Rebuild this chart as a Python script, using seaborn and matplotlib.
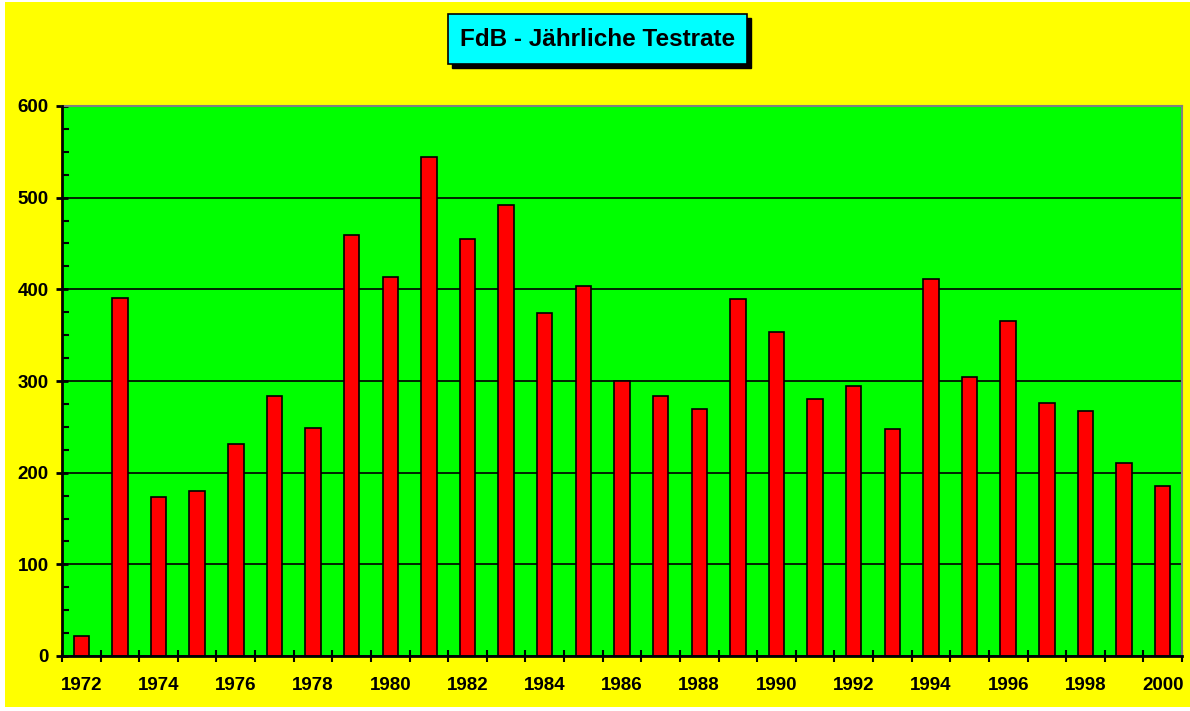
import matplotlib
matplotlib.use("Agg")
import matplotlib.pyplot as plt
import matplotlib.patches as mpatches
from matplotlib.ticker import MultipleLocator, FixedLocator
import seaborn as sns
import pandas as pd

years = [str(y) for y in range(1972, 2001)]
values = [22, 391, 174, 180, 231, 284, 249, 459, 413, 544,
          455, 492, 374, 404, 300, 284, 269, 389, 354, 280,
          295, 248, 411, 304, 365, 276, 267, 211, 185]
title = "FdB - Jährliche Testrate"

sns.set_theme(style="white")
plt.rcParams["font.family"] = ["Liberation Sans", "DejaVu Sans"]
plt.rcParams["font.weight"] = "bold"

df = pd.DataFrame({"Jahr": years, "Tests": values})

fig = plt.figure(figsize=(11.9, 7.11), dpi=100, facecolor="white")
# yellow chart area
fig.patches.append(mpatches.Rectangle((5 / 1190, 4 / 711), 1185 / 1190, 705 / 711,
                                      transform=fig.transFigure, facecolor="#FFFF00",
                                      edgecolor="none", zorder=-10))

ax = fig.add_axes([62 / 1190, 1 - 656 / 711, 1120 / 1190, 550 / 711])
ax.set_zorder(1)
ax.set_facecolor("#00FF00")

sns.barplot(data=df, x="Jahr", y="Tests", color="#FF0000", saturation=1,
            edgecolor="black", linewidth=1.2, width=0.4, ax=ax, zorder=3)

ax.set_xlim(-0.5, len(years) - 0.5)
ax.set_ylim(0, 600)
ax.set_xlabel("")
ax.set_ylabel("")

# y axis
ax.yaxis.set_major_locator(MultipleLocator(100))
ax.yaxis.set_minor_locator(MultipleLocator(25))
ax.grid(axis="y", which="major", color="black", linewidth=1.2, zorder=1)
ax.set_axisbelow(True)
ax.tick_params(axis="y", which="major", direction="inout", length=9, width=2,
               color="black", labelsize=13.5, pad=5, left=True)
ax.tick_params(axis="y", which="minor", direction="in", length=5, width=1.5,
               color="black", left=True)

# x axis: labels at every other category, ticks at boundaries
ax.xaxis.set_major_locator(FixedLocator(list(range(0, len(years), 2))))
ax.set_xticklabels([years[i] for i in range(0, len(years), 2)])
ax.xaxis.set_minor_locator(FixedLocator([i - 0.5 for i in range(len(years) + 1)]))
ax.tick_params(axis="x", which="major", length=0, labelsize=13.5, pad=15)
ax.tick_params(axis="x", which="minor", direction="inout", length=9, width=1.5,
               color="black", bottom=True)

for lab in ax.get_xticklabels() + ax.get_yticklabels():
    lab.set_fontweight("bold")
    lab.set_color("black")

for side in ["left", "bottom"]:
    ax.spines[side].set_color("black")
    ax.spines[side].set_linewidth(2)
    ax.spines[side].set_zorder(5)
for side in ["top", "right"]:
    ax.spines[side].set_color("#808080")
    ax.spines[side].set_linewidth(1.5)
    ax.spines[side].set_visible(True)

# title box with shadow
bx, by, bw, bh = 448 / 1190, 1 - 64 / 711, 299 / 1190, 50 / 711
fig.patches.append(mpatches.Rectangle((bx + 4 / 1190, by - 4 / 711), bw, bh,
                                      transform=fig.transFigure, facecolor="black",
                                      edgecolor="black", zorder=1))
fig.patches.append(mpatches.Rectangle((bx, by), bw, bh, transform=fig.transFigure,
                                      facecolor="#00FFFF", edgecolor="black",
                                      linewidth=1.2, zorder=2))
fig.text(bx + bw / 2, by + bh / 2, title, ha="center", va="center",
         fontsize=17.5, fontweight="bold", color="black", zorder=3)

fig.savefig("out.png", dpi=100, facecolor=fig.get_facecolor())
